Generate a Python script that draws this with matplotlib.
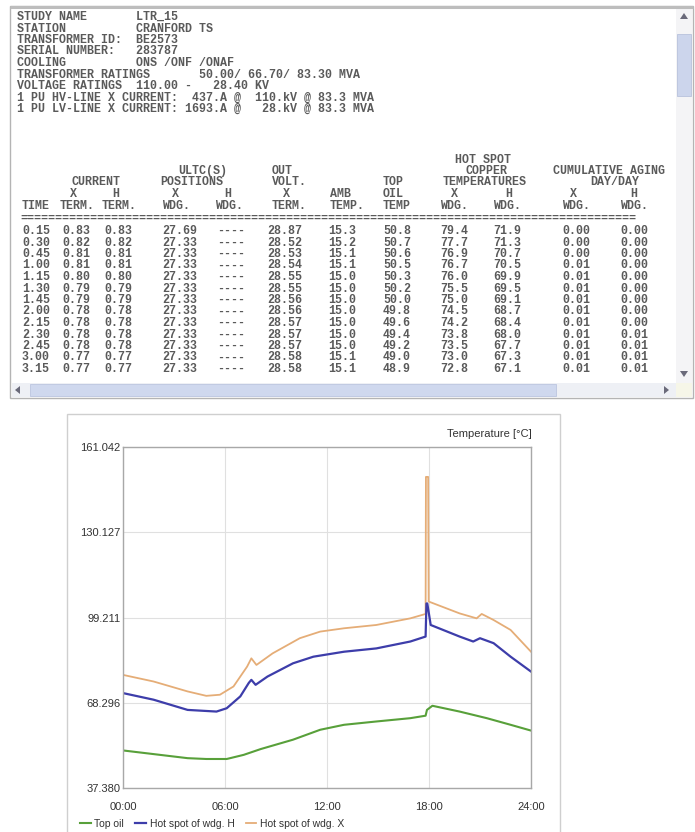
import matplotlib
matplotlib.use('Agg')
import matplotlib.pyplot as plt
from matplotlib.patches import Rectangle, Polygon

# ---------------- data ----------------
header_lines = [
    "STUDY NAME       LTR_15",
    "STATION          CRANFORD TS",
    "TRANSFORMER ID:  BE2573",
    "SERIAL NUMBER:   283787",
    "COOLING          ONS /ONF /ONAF",
    "TRANSFORMER RATINGS       50.00/ 66.70/ 83.30 MVA",
    "VOLTAGE RATINGS  110.00 -   28.40 KV",
    "1 PU HV-LINE X CURRENT:  437.A @  110.kV @ 83.3 MVA",
    "1 PU LV-LINE X CURRENT: 1693.A @   28.kV @ 83.3 MVA",
]

table_time = ["0.15", "0.30", "0.45", "1.00", "1.15", "1.30", "1.45",
              "2.00", "2.15", "2.30", "2.45", "3.00", "3.15"]
current_x = [0.83, 0.82, 0.81, 0.81, 0.80, 0.79, 0.79, 0.78, 0.78, 0.78, 0.78, 0.77, 0.77]
current_h = [0.83, 0.82, 0.81, 0.81, 0.80, 0.79, 0.79, 0.78, 0.78, 0.78, 0.78, 0.77, 0.77]
ultc_x = [27.69, 27.33, 27.33, 27.33, 27.33, 27.33, 27.33, 27.33, 27.33, 27.33, 27.33, 27.33, 27.33]
ultc_h = ["----"] * 13
out_volt = [28.87, 28.52, 28.53, 28.54, 28.55, 28.55, 28.56, 28.56, 28.57, 28.57, 28.57, 28.58, 28.58]
amb_temp = [15.3, 15.2, 15.1, 15.1, 15.0, 15.0, 15.0, 15.0, 15.0, 15.0, 15.0, 15.1, 15.1]
top_oil_tab = [50.8, 50.7, 50.6, 50.5, 50.3, 50.2, 50.0, 49.8, 49.6, 49.4, 49.2, 49.0, 48.9]
hot_x_tab = [79.4, 77.7, 76.9, 76.7, 76.0, 75.5, 75.0, 74.5, 74.2, 73.8, 73.5, 73.0, 72.8]
hot_h_tab = [71.9, 71.3, 70.7, 70.5, 69.9, 69.5, 69.1, 68.7, 68.4, 68.0, 67.7, 67.3, 67.1]
aging_x = [0.00, 0.00, 0.00, 0.01, 0.01, 0.01, 0.01, 0.01, 0.01, 0.01, 0.01, 0.01, 0.01]
aging_h = [0.00, 0.00, 0.00, 0.00, 0.00, 0.00, 0.00, 0.00, 0.00, 0.01, 0.01, 0.01, 0.01]

# chart series (hours, degC)
time_oil = [0, 3.8, 4.9, 6.1, 7.1, 8.1, 10.0, 11.6, 13.0, 14.9, 16.9, 17.8, 17.88, 18.2, 19.8, 21.4, 22.8, 24]
temp_oil = [51.0, 48.2, 47.9, 47.9, 49.4, 51.5, 54.9, 58.5, 60.3, 61.5, 62.7, 63.6, 65.7, 67.2, 65.1, 62.7, 60.3, 58.2]

time_h = [0, 1.8, 3.8, 5.5, 6.1, 6.9, 7.4, 7.55, 7.8, 8.5, 10.0, 11.2, 13.0, 14.9, 16.9, 17.8,
          17.85, 17.9, 18.1, 19.8, 20.6, 21.0, 21.8, 22.8, 24]
temp_h = [71.8, 69.4, 65.7, 65.1, 66.3, 70.6, 75.5, 76.6, 74.8, 77.8, 82.6, 85.0, 86.8, 88.0, 90.5, 92.3,
          104.3, 104.3, 96.5, 92.3, 90.5, 91.7, 89.9, 85.0, 79.6]

time_x = [0, 1.8, 3.8, 4.9, 5.7, 6.5, 7.3, 7.55, 7.85, 8.8, 10.4, 11.6, 13.0, 14.9, 16.9, 17.8,
          17.82, 17.95, 17.98, 19.8, 20.8, 21.1, 21.8, 22.8, 24]
temp_x = [78.4, 76.0, 72.4, 70.8, 71.2, 74.2, 81.4, 84.4, 82.0, 86.2, 91.7, 94.1, 95.3, 96.5, 98.9, 100.5,
          150.2, 150.2, 105.0, 100.7, 98.9, 100.5, 98.3, 94.7, 86.8]

y_ticks = [37.380, 68.296, 99.211, 130.127, 161.042]
y_ticklabels = ["37.380", "68.296", "99.211", "130.127", "161.042"]
x_ticks = [0, 6, 12, 18, 24]
x_ticklabels = ["00:00", "06:00", "12:00", "18:00", "24:00"]
series_names = ["Top oil", "Hot spot of wdg. H", "Hot spot of wdg. X"]

# ---------------- figure ----------------
W, H = 695, 832
fig = plt.figure(figsize=(W / 100, H / 100), dpi=100)
fig.patch.set_facecolor('white')

bg = fig.add_axes([0, 0, 1, 1])
bg.set_xlim(0, W)
bg.set_ylim(H, 0)
bg.axis('off')

# window frame
bg.add_patch(Rectangle((10, 6), 683, 392, fc='white', ec='#b4b4b4', lw=1.0))
bg.plot([10, 693], [6.5, 6.5], color='#bdbdbd', lw=2.2, solid_capstyle='butt')
# vertical scrollbar
bg.add_patch(Rectangle((676, 8), 16, 375, fc='#f4f4f6', ec='none'))
bg.add_patch(Polygon([[680, 19], [688, 19], [684, 13]], closed=True, fc='#6a6a7a', ec='none'))
bg.add_patch(Rectangle((677, 34), 14, 62, fc='#ccd5ec', ec='#b8c2dc', lw=0.6))
bg.add_patch(Polygon([[680, 371], [688, 371], [684, 377]], closed=True, fc='#6a6a7a', ec='none'))
# horizontal scrollbar
bg.add_patch(Rectangle((12, 383), 664, 14, fc='#eef0f5', ec='none'))
bg.add_patch(Rectangle((30, 384), 526, 12, fc='#cfd8ee', ec='#bcc6e0', lw=0.6))
bg.add_patch(Polygon([[20, 386], [20, 394], [15, 390]], closed=True, fc='#6a6a7a', ec='none'))
bg.add_patch(Polygon([[664, 386], [664, 394], [669, 390]], closed=True, fc='#6a6a7a', ec='none'))
bg.add_patch(Rectangle((676, 383), 16, 14, fc='#f6f6e8', ec='none'))

mono = dict(family='Liberation Mono', fontsize=8.4, fontweight='bold', color='#5a5a5a',
            va='center', ha='left')

for i, line in enumerate(header_lines):
    bg.text(17, 17 + i * 11.5, line, **mono)

# table header
col_x = [22, 62, 104, 162, 217, 267, 328, 383, 440, 493, 562, 620]
hdr = [
    (455, 160, "HOT SPOT"),
    (178, 171, "ULTC(S)"), (272, 171, "OUT"), (465, 171, "COPPER"), (553, 171, "CUMULATIVE AGING"),
    (72, 182, "CURRENT"), (160, 182, "POSITIONS"), (272, 182, "VOLT."), (383, 182, "TOP"),
    (443, 182, "TEMPERATURES"), (590, 182, "DAY/DAY"),
    (70, 194, "X"), (112, 194, "H"), (172, 194, "X"), (224, 194, "H"), (283, 194, "X"),
    (330, 194, "AMB"), (383, 194, "OIL"), (451, 194, "X"), (505, 194, "H"), (570, 194, "X"), (630, 194, "H"),
    (22, 206, "TIME"), (60, 206, "TERM."), (102, 206, "TERM."), (162, 206, "WDG."), (215, 206, "WDG."),
    (272, 206, "TERM."), (330, 206, "TEMP."), (383, 206, "TEMP"), (440, 206, "WDG."), (493, 206, "WDG."),
    (562, 206, "WDG."), (620, 206, "WDG."),
]
for x, y, s in hdr:
    bg.text(x, y, s, **mono)
bg.text(20, 219, "=" * 88, **mono)

columns = [
    table_time,
    ["%.2f" % v for v in current_x],
    ["%.2f" % v for v in current_h],
    ["%.2f" % v for v in ultc_x],
    ultc_h,
    ["%.2f" % v for v in out_volt],
    ["%.1f" % v for v in amb_temp],
    ["%.1f" % v for v in top_oil_tab],
    ["%.1f" % v for v in hot_x_tab],
    ["%.1f" % v for v in hot_h_tab],
    ["%.2f" % v for v in aging_x],
    ["%.2f" % v for v in aging_h],
]
for cx, col in zip(col_x, columns):
    for r, s in enumerate(col):
        bg.text(cx, 231 + r * 11.5, s, **mono)

# chart panel
bg.add_patch(Rectangle((67, 414), 493, 430, fc='white', ec='#cfcfcf', lw=1.0))

sans = 'Liberation Sans'
left, right, top, bottom = 123, 531, 447, 788
ax = fig.add_axes([left / W, 1 - bottom / H, (right - left) / W, (bottom - top) / H])
ax.set_facecolor('white')

c_oil, c_h, c_x = '#58a03a', '#3d3daa', '#e5ad77'
l1, = ax.plot(time_oil, temp_oil, color=c_oil, lw=1.5)
l3, = ax.plot(time_x, temp_x, color=c_x, lw=1.3)
l2, = ax.plot(time_h, temp_h, color=c_h, lw=1.6)

ax.set_xlim(0, 24)
ax.set_ylim(y_ticks[0], y_ticks[-1])
ax.set_xticks(x_ticks)
ax.set_xticklabels(x_ticklabels, fontfamily=sans, fontsize=8, color='#333333')
ax.set_yticks(y_ticks)
ax.set_yticklabels(y_ticklabels, fontfamily=sans, fontsize=8, color='#333333')
ax.tick_params(axis='x', length=0, pad=10)
ax.tick_params(axis='y', length=0, pad=2)
ax.grid(True, color='#e0e0e0', lw=0.8)
ax.set_axisbelow(True)
for sp in ax.spines.values():
    sp.set_color('#a8a8a8')
    sp.set_linewidth(1.0)

bg.text(532, 434, "Temperature [\u00b0C]", family=sans, fontsize=8, color='#333333',
        ha='right', va='center')

fig.legend([l1, l2, l3], series_names, loc='center left',
           bbox_to_anchor=(76 / W, 1 - 824 / H), ncol=3, frameon=False,
           handlelength=1.0, handletextpad=0.35, columnspacing=1.1,
           prop={'family': sans, 'size': 7.5}, labelcolor='#333333', borderaxespad=0)

fig.savefig('out.png', dpi=100, facecolor='white')
